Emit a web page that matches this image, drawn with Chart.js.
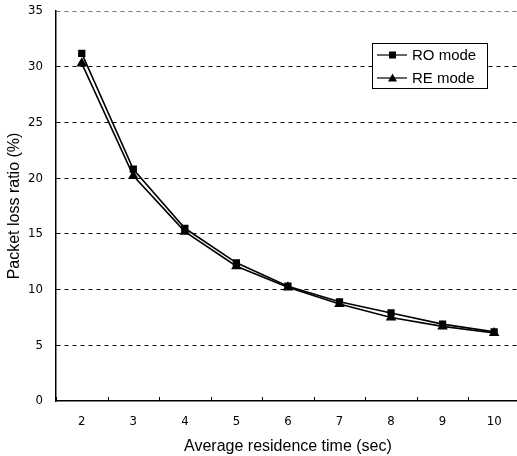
<!DOCTYPE html>
<html>
<head>
<meta charset="utf-8">
<script src="https://cdn.jsdelivr.net/npm/chart.js@4"></script>
<style>
  html, body { margin: 0; padding: 0; background: #fff; overflow: hidden; }
  #wrap { width: 517px; height: 456px; overflow: hidden; }
</style>
</head>
<body>
<div id="wrap"><canvas id="chart" width="526" height="456"></canvas></div>
<script>
// values
const times = ['2', '3', '4', '5', '6', '7', '8', '9', '10'];
const roMode = [31.2, 20.8, 15.5, 12.4, 10.3, 8.9, 7.9, 6.9, 6.2];
const reMode = [30.3, 20.2, 15.2, 12.1, 10.2, 8.7, 7.5, 6.7, 6.1];
const yTicks = [0, 5, 10, 15, 20, 25, 30, 35];

const tickFont = { family: '"Liberation Sans Narrow", "DejaVu Sans Condensed", "Liberation Sans", sans-serif', size: 13 };
const titleFont = { family: '"Liberation Sans", Arial, sans-serif', size: 16 };

// legend box drawn inside the plot, like the original
const insideLegend = {
  id: 'insideLegend',
  afterDraw(chart) {
    const ctx = chart.ctx;
    const x = 372, y = 43, w = 115, h = 45;
    ctx.save();
    ctx.fillStyle = '#fff';
    ctx.fillRect(x, y, w, h);
    ctx.strokeStyle = '#000';
    ctx.lineWidth = 1;
    ctx.strokeRect(x + 0.5, y + 0.5, w, h);
    chart.data.datasets.forEach((ds, i) => {
      const cy = y + 12 + i * 23;
      ctx.beginPath();
      ctx.moveTo(x + 5, cy);
      ctx.lineTo(x + 35, cy);
      ctx.strokeStyle = '#000';
      ctx.lineWidth = 1.2;
      ctx.stroke();
      ctx.fillStyle = '#000';
      if (ds.pointStyle === 'rect') {
        ctx.fillRect(x + 17, cy - 3.5, 7, 7);
      } else {
        ctx.beginPath();
        ctx.moveTo(x + 20.5, cy - 4.5);
        ctx.lineTo(x + 25, cy + 3.5);
        ctx.lineTo(x + 16, cy + 3.5);
        ctx.closePath();
        ctx.fill();
      }
      ctx.font = '15px "Liberation Sans", Arial, sans-serif';
      ctx.textBaseline = 'middle';
      ctx.fillText(ds.label, x + 40, cy + 1);
    });
    ctx.restore();
  }
};

// small inward tick marks on the x axis, between categories
const innerTicks = {
  id: 'innerTicks',
  afterDraw(chart) {
    const xs = chart.scales.x;
    const ctx = chart.ctx;
    const bottom = chart.chartArea.bottom;
    ctx.save();
    ctx.strokeStyle = '#000';
    ctx.lineWidth = 1;
    for (let i = 0; i <= times.length; i++) {
      const px = Math.round(xs.getPixelForValue(i - 0.5)) + 0.5;
      ctx.beginPath();
      ctx.moveTo(px, bottom);
      ctx.lineTo(px, bottom - 4);
      ctx.stroke();
    }
    ctx.restore();
  }
};

new Chart(document.getElementById('chart'), {
  type: 'line',
  data: {
    labels: times,
    datasets: [
      {
        label: 'RO mode',
        data: roMode,
        borderColor: '#000',
        backgroundColor: '#000',
        borderWidth: 1.6,
        pointStyle: 'rect',
        pointRadius: 4,
        tension: 0
      },
      {
        label: 'RE mode',
        data: reMode,
        borderColor: '#000',
        backgroundColor: '#000',
        borderWidth: 1.6,
        pointStyle: 'triangle',
        pointRadius: 4.5,
        tension: 0
      }
    ]
  },
  options: {
    responsive: false,
    animation: false,
    layout: { padding: { top: 11, right: 0, left: 0, bottom: 0 } },
    plugins: {
      legend: { display: false },
      tooltip: { enabled: false }
    },
    scales: {
      x: {
        offset: true,
        grid: { display: false, drawTicks: false },
        border: { display: true, color: '#000', width: 1.5 },
        ticks: { color: '#000', font: tickFont, padding: 13 },
        title: { display: true, text: 'Average residence time (sec)', color: '#000', font: titleFont, padding: { top: 4, bottom: 0 } },
        afterFit: (s) => { s.height = 55; }
      },
      y: {
        min: 0,
        max: 35,
        afterBuildTicks: (s) => { s.ticks = yTicks.map(v => ({ value: v })); },
        grid: {
          drawTicks: false,
          color: (c) => c.tick.value === 0 ? 'rgba(0,0,0,0)' : (c.tick.value === 35 ? '#777' : '#000'),
          lineWidth: 1
        },
        border: { display: true, color: '#000', width: 1.5, dash: [4, 4] },
        ticks: { color: '#000', font: tickFont, padding: 13 },
        title: { display: true, text: 'Packet loss ratio (%)', color: '#000', font: titleFont, padding: { top: 5, bottom: 2 } },
        afterFit: (s) => { s.width = 56; s.paddingTop = 0; s.paddingBottom = 0; }
      }
    }
  },
  plugins: [insideLegend, innerTicks]
});
</script>
</body>
</html>
